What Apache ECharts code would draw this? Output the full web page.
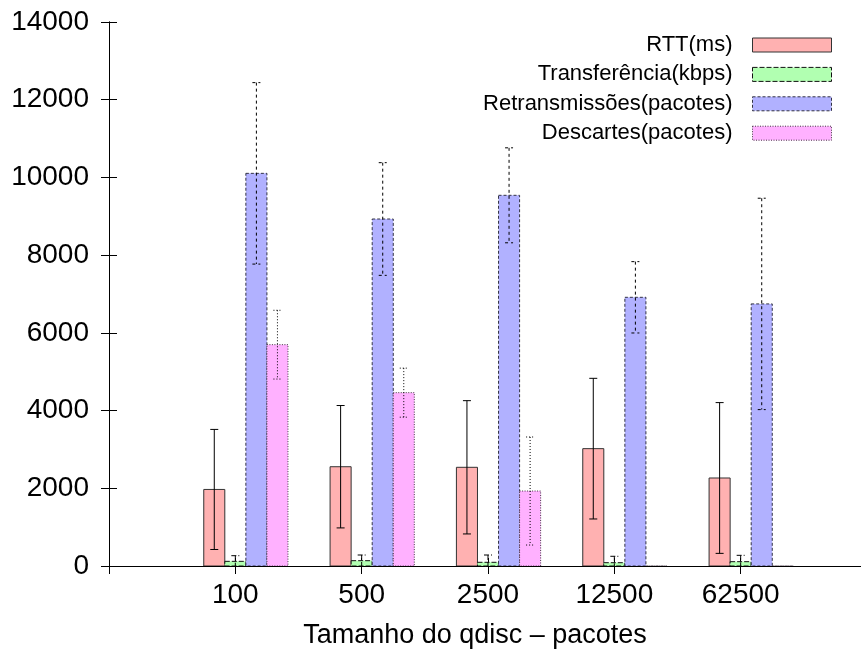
<!DOCTYPE html>
<html>
<head>
<meta charset="utf-8">
<script src="https://cdn.jsdelivr.net/npm/echarts@6/dist/echarts.min.js"></script>
<style>
  html, body { margin: 0; padding: 0; background: #fff; }
  #chart { width: 861px; height: 657px; }
</style>
</head>
<body>
<div id="chart"></div>
<script>
// Queue sizes (qdisc length, in packets)
const categories = ['100', '500', '2500', '12500', '62500'];

// Means and standard deviations per metric
const rtt          = [1970, 2555, 2540, 3020, 2265];
const rttErr       = [1545, 1575, 1715, 1810, 1940];
const transfer     = [120, 137, 95, 85, 111];
const transferErr  = [145, 146, 188, 165, 164];
const retrans      = [10105, 8930, 9540, 6915, 6745];
const retransErr   = [2335, 1450, 1222, 918, 2720];
const descartes    = [5696, 4461, 1930, 0, 0];
const descartesErr = [885, 631, 1390, 0, 0];

const yTicks = [0, 2000, 4000, 6000, 8000, 10000, 12000, 14000];

const FONT = '"Liberation Sans", Arial, Helvetica, sans-serif';
const BAR_W = 1 / 6; // width of one bar, in x-axis units

// Style of each metric: fill, outline and error-bar dash pattern
const metrics = [
  { name: 'RTT(ms)', mean: rtt, err: rttErr, slot: -1,
    fill: '#ffb1b1', stroke: '#333333', dash: null, errDash: null },
  { name: 'Transferência(kbps)', mean: transfer, err: transferErr, slot: 0,
    fill: '#b1ffb1', stroke: '#111111', dash: [5, 2], errDash: [5, 2] },
  { name: 'Retransmissões(pacotes)', mean: retrans, err: retransErr, slot: 1,
    fill: '#b1b1ff', stroke: '#333344', dash: [3, 2], errDash: [3, 3] },
  { name: 'Descartes(pacotes)', mean: descartes, err: descartesErr, slot: 2,
    fill: '#ffb1ff', stroke: '#443344', dash: [1, 1.5], errDash: [1, 2] }
];

function makeSeries(m) {
  const data = categories.map((c, i) => [i + 1, m.mean[i], m.err[i]]);
  return {
    type: 'custom',
    name: m.name,
    data: data,
    encode: { x: 0, y: 1 },
    clip: true,
    renderItem: function (params, api) {
      const x = api.value(0);
      const v = api.value(1);
      const e = api.value(2);
      const left = x + (m.slot - 0.5) * BAR_W;
      const right = x + (m.slot + 0.5) * BAR_W;
      const p0 = api.coord([left, 0]);
      const p1 = api.coord([right, v]);
      const cx = (p0[0] + p1[0]) / 2;
      const children = [{
        type: 'rect',
        shape: { x: p0[0], y: p1[1], width: p1[0] - p0[0], height: p0[1] - p1[1] },
        style: { fill: m.fill, stroke: m.stroke, lineWidth: 1, lineDash: m.dash }
      }];
      if (e > 0) {
        const yHi = api.coord([x, v + e])[1];
        const yLo = Math.min(api.coord([x, Math.max(v - e, 0)])[1], p0[1]);
        const cap = 4;
        const errStyle = { stroke: '#000', lineWidth: 1, lineDash: m.errDash };
        children.push(
          { type: 'line', shape: { x1: cx, y1: yHi, x2: cx, y2: yLo }, style: errStyle },
          { type: 'line', shape: { x1: cx - cap, y1: yHi, x2: cx + cap, y2: yHi }, style: errStyle }
        );
        if (v - e > 0) {
          children.push({ type: 'line', shape: { x1: cx - cap, y1: yLo, x2: cx + cap, y2: yLo }, style: errStyle });
        }
      }
      return { type: 'group', children: children };
    }
  };
}

const axisLineStyle = { show: true, lineStyle: { color: '#000', width: 1 } };
const tickStyle = { show: true, inside: true, length: 8, lineStyle: { color: '#000', width: 1 } };

const option = {
  animation: false,
  backgroundColor: '#fff',
  textStyle: { fontFamily: FONT },
  grid: { left: 109, top: 22, width: 758, height: 544, containLabel: false, outerBoundsMode: 'none' },
  legend: {
    orient: 'vertical',
    align: 'right',
    right: 29,
    top: 34,
    padding: 0,
    itemWidth: 79,
    itemHeight: 14,
    itemGap: 7.4,
    selectedMode: false,
    textStyle: { fontFamily: FONT, fontSize: 22, color: '#000', padding: [0, 15, 0, 0] },
    data: metrics.map(m => ({
      name: m.name,
      icon: 'rect',
      itemStyle: { color: m.fill, borderColor: m.stroke, borderWidth: 1, borderType: m.dash || 'solid' }
    }))
  },
  xAxis: [{
    type: 'value', position: 'bottom', min: 0, max: 6, interval: 1,
    name: 'Tamanho do qdisc – pacotes', nameLocation: 'middle', nameGap: 56,
    nameTextStyle: { fontFamily: FONT, fontSize: 27, color: '#000', padding: [0, 26, 0, 0] },
    axisLine: axisLineStyle, axisTick: tickStyle, splitLine: { show: false },
    axisLabel: {
      fontFamily: FONT, fontSize: 28, color: '#000', margin: 15,
      formatter: v => categories[v - 1] || ''
    }
  }, {
    type: 'value', position: 'top', min: 0, max: 6, interval: 1,
    axisLine: axisLineStyle, axisTick: tickStyle, splitLine: { show: false },
    axisLabel: { show: false }
  }],
  yAxis: [{
    type: 'value', position: 'left', min: yTicks[0], max: yTicks[yTicks.length - 1], interval: 2000,
    axisLine: axisLineStyle, axisTick: tickStyle, splitLine: { show: false },
    axisLabel: { fontFamily: FONT, fontSize: 28, color: '#000', margin: 20, formatter: v => String(v) }
  }, {
    type: 'value', position: 'right', min: yTicks[0], max: yTicks[yTicks.length - 1], interval: 2000,
    axisLine: axisLineStyle, axisTick: tickStyle, splitLine: { show: false },
    axisLabel: { show: false }
  }],
  series: metrics.map(makeSeries)
};

const chart = echarts.init(document.getElementById('chart'), null, { renderer: 'canvas' });
chart.setOption(option);
</script>
</body>
</html>
